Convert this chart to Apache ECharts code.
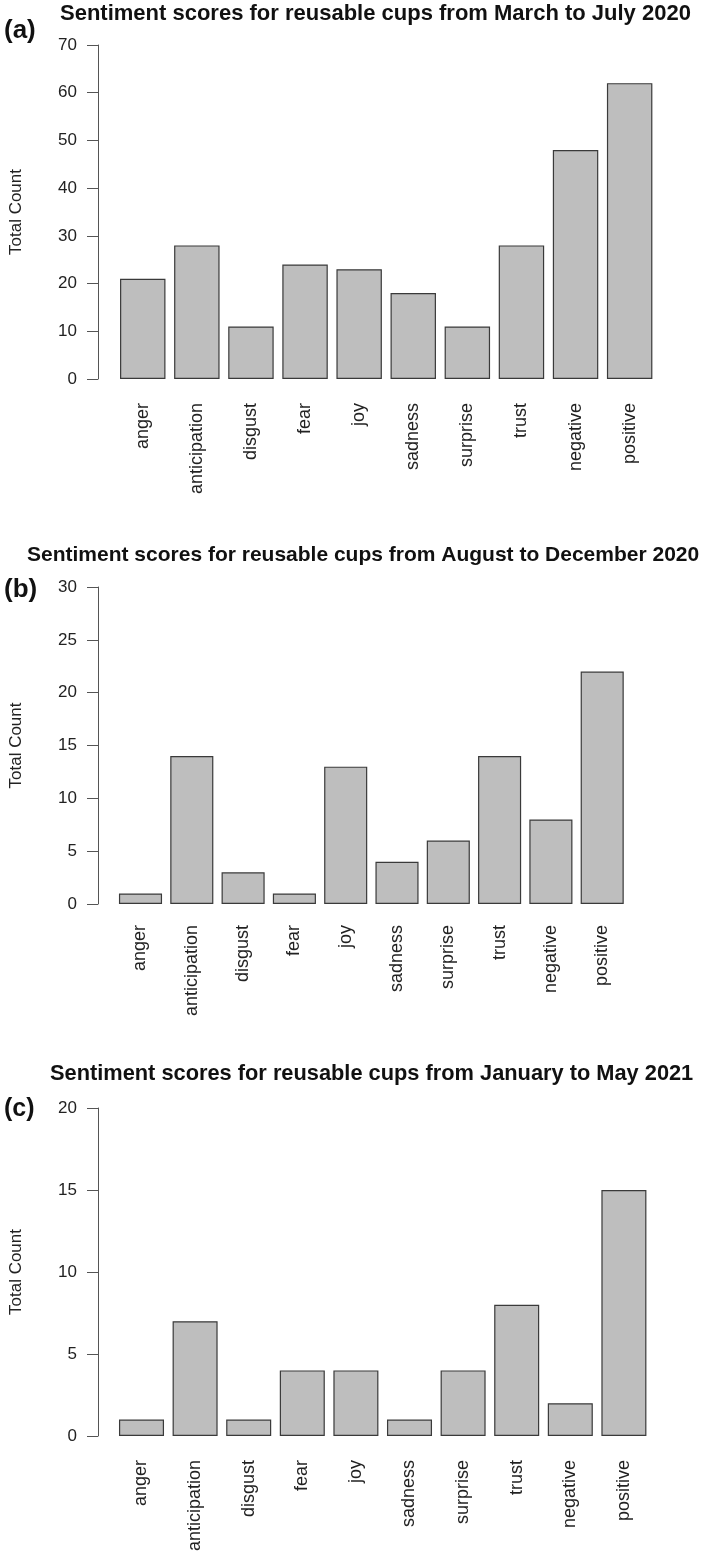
<!DOCTYPE html>
<html>
<head>
<meta charset="utf-8">
<script src="https://cdn.jsdelivr.net/npm/echarts@6/dist/echarts.min.js"></script>
<style>
html,body{margin:0;padding:0;background:#fff;}
#chart{width:708px;height:1555px;}
</style>
</head>
<body>
<div id="chart"></div>
<script>
var categories = ['anger','anticipation','disgust','fear','joy','sadness','surprise','trust','negative','positive'];
var valuesA = [21,28,11,24,23,18,11,28,48,62];
var valuesB = [1,14,3,1,13,4,6,14,8,22];
var valuesC = [1,7,1,4,4,1,4,8,2,15];
var titles = [
  'Sentiment scores for reusable cups from March to July 2020',
  'Sentiment scores for reusable cups from August to December 2020',
  'Sentiment scores for reusable cups from January to May 2021'
];
var panelLabels = ['(a)','(b)','(c)'];
var yMax = [70, 30, 20];
var yInterval = [10, 5, 5];
var yName = 'Total Count';

var FONT = '"Liberation Sans", Arial, Helvetica, sans-serif';
var grids = [
  {left:105.7, top:45,   width:551, height:334},
  {left:104.85,top:587,  width:523, height:317},
  {left:104.7, top:1108, width:546, height:328}
];
var titleFont = [22, 21, 21.8];
var titlePos = [{left:60, top:3},{left:27, top:545},{left:50, top:1063}];
var labelFont = [26, 26, 25];
var labelPos = [{left:4, top:18},{left:4, top:577},{left:4, top:1097}];
var catMargin = [24, 21, 24];
var data = [valuesA, valuesB, valuesC];

var option = {
  animation:false,
  backgroundColor:'#fff',
  title: [],
  grid: [],
  xAxis: [],
  yAxis: [],
  series: []
};
for (var i=0;i<3;i++){
  option.title.push({text:titles[i], left:titlePos[i].left, top:titlePos[i].top, padding:0,
    textStyle:{fontFamily:FONT, fontWeight:'bold', fontSize:titleFont[i], color:'#111'}});
  option.title.push({text:panelLabels[i], left:labelPos[i].left, top:labelPos[i].top, padding:0,
    textStyle:{fontFamily:FONT, fontWeight:'bold', fontSize:labelFont[i], color:'#111'}});
  option.grid.push(grids[i]);
  option.xAxis.push({type:'category', gridIndex:i, data:categories,
    axisLine:{show:false}, axisTick:{show:false},
    axisLabel:{rotate:90, margin:catMargin[i], fontFamily:FONT, fontSize:18, color:'#222', interval:0}});
  option.yAxis.push({type:'value', gridIndex:i, min:0, max:yMax[i], interval:yInterval[i],
    offset: grids[i].left - 88,
    name:yName, nameLocation:'middle', nameGap:73,
    nameTextStyle:{fontFamily:FONT, fontSize:17, color:'#222'},
    splitLine:{show:false},
    axisLine:{show:true, lineStyle:{color:'#555', width:1}},
    axisTick:{show:true, length:11, lineStyle:{color:'#555', width:1}},
    axisLabel:{margin:21, fontFamily:FONT, fontSize:17, color:'#222'}});
  option.series.push({type:'bar', xAxisIndex:i, yAxisIndex:i, data:data[i], barWidth:'84%',
    itemStyle:{color:'#bebebe', borderColor:'#3a3a3a', borderWidth:1.2}});
}
var chart = echarts.init(document.getElementById('chart'), null, {renderer:'canvas'});
chart.setOption(option);
</script>
</body>
</html>
